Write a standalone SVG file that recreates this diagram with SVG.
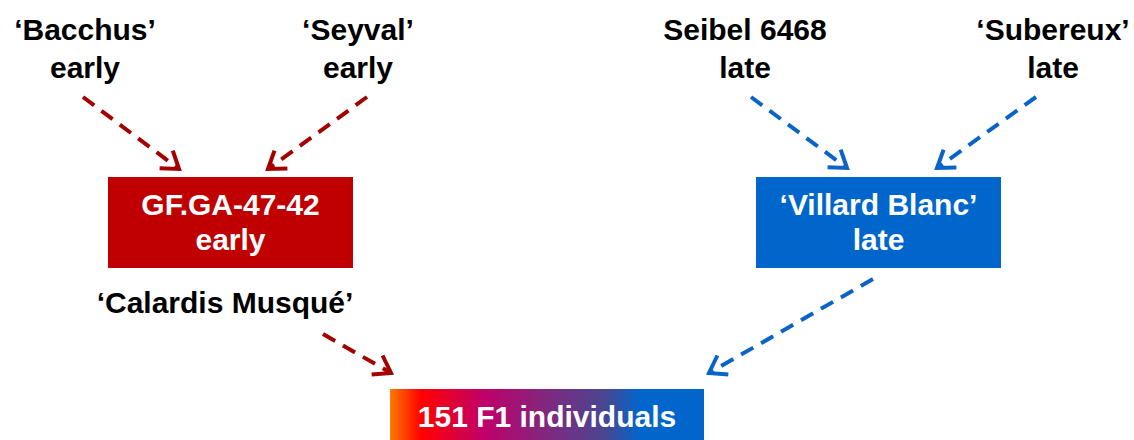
<svg xmlns="http://www.w3.org/2000/svg" width="1134" height="440" viewBox="0 0 1134 440">
<style>
text{font-family:"Liberation Sans",Arial,sans-serif;font-weight:bold;font-size:30px;text-anchor:middle}
.lbl{fill:#000}
.w{fill:#fff}
.red{stroke:#A30000;stroke-width:4;fill:none;stroke-dasharray:14 9}
.blue{stroke:#0A64C8;stroke-width:4;fill:none;stroke-dasharray:14 9}
</style>
<defs>
<marker id="ar" markerUnits="userSpaceOnUse" viewBox="-20 -14 24 28" refX="0" refY="0" markerWidth="24" markerHeight="28" orient="auto" overflow="visible">
<path d="M-16,-11 L0,0 L-16,11" fill="none" stroke="#A30000" stroke-width="4" stroke-linejoin="miter"/>
</marker>
<marker id="ab" markerUnits="userSpaceOnUse" viewBox="-20 -14 24 28" refX="0" refY="0" markerWidth="24" markerHeight="28" orient="auto" overflow="visible">
<path d="M-16,-11 L0,0 L-16,11" fill="none" stroke="#0A64C8" stroke-width="4" stroke-linejoin="miter"/>
</marker>
<linearGradient id="grad" x1="0" y1="0" x2="1" y2="0">
<stop offset="0" stop-color="#FF7A00"/>
<stop offset="0.1" stop-color="#FF0000"/>
<stop offset="0.3" stop-color="#C0006A"/>
<stop offset="0.5" stop-color="#80287F"/>
<stop offset="0.68" stop-color="#4A4690"/>
<stop offset="0.8" stop-color="#0066CC"/>
<stop offset="1" stop-color="#0066CC"/>
</linearGradient>
</defs>

<g id="bacchus"><text class="lbl" x="85" y="40">‘Bacchus’</text><text class="lbl" x="85" y="78">early</text></g>
<g id="seyval"><text class="lbl" x="358" y="40">‘Seyval’</text><text class="lbl" x="358" y="78">early</text></g>
<g id="seibel"><text class="lbl" x="745" y="40">Seibel 6468</text><text class="lbl" x="745" y="78">late</text></g>
<g id="subereux"><text class="lbl" x="1053" y="40">‘Subereux’</text><text class="lbl" x="1053" y="78">late</text></g>

<g id="gfga"><rect x="108" y="177" width="245" height="91" fill="#C00000"/><text class="w" x="230.5" y="215">GF.GA-47-42</text><text class="w" x="230.5" y="250">early</text></g>
<g id="villard"><rect x="756" y="177" width="245" height="91" fill="#0066CC"/><text class="w" x="878.5" y="215">‘Villard Blanc’</text><text class="w" x="878.5" y="250">late</text></g>

<g id="calardis"><text class="lbl" x="225" y="313">‘Calardis Musqué’</text></g>

<g id="f1"><rect x="390" y="389" width="314" height="51" fill="url(#grad)"/><text class="w" x="547" y="427">151 F1 individuals</text></g>

<g id="connectors">
<path class="red" d="M83,97 L179,169" marker-end="url(#ar)"/>
<path class="red" d="M367,97 L268,169" marker-end="url(#ar)"/>
<path class="red" d="M323,334 L391,373" marker-end="url(#ar)"/>
<path class="blue" d="M751,97 L847,168" marker-end="url(#ab)"/>
<path class="blue" d="M1036,97 L937,168" marker-end="url(#ab)"/>
<path class="blue" d="M873,279 L709,373" marker-end="url(#ab)"/>
</g>
</svg>
